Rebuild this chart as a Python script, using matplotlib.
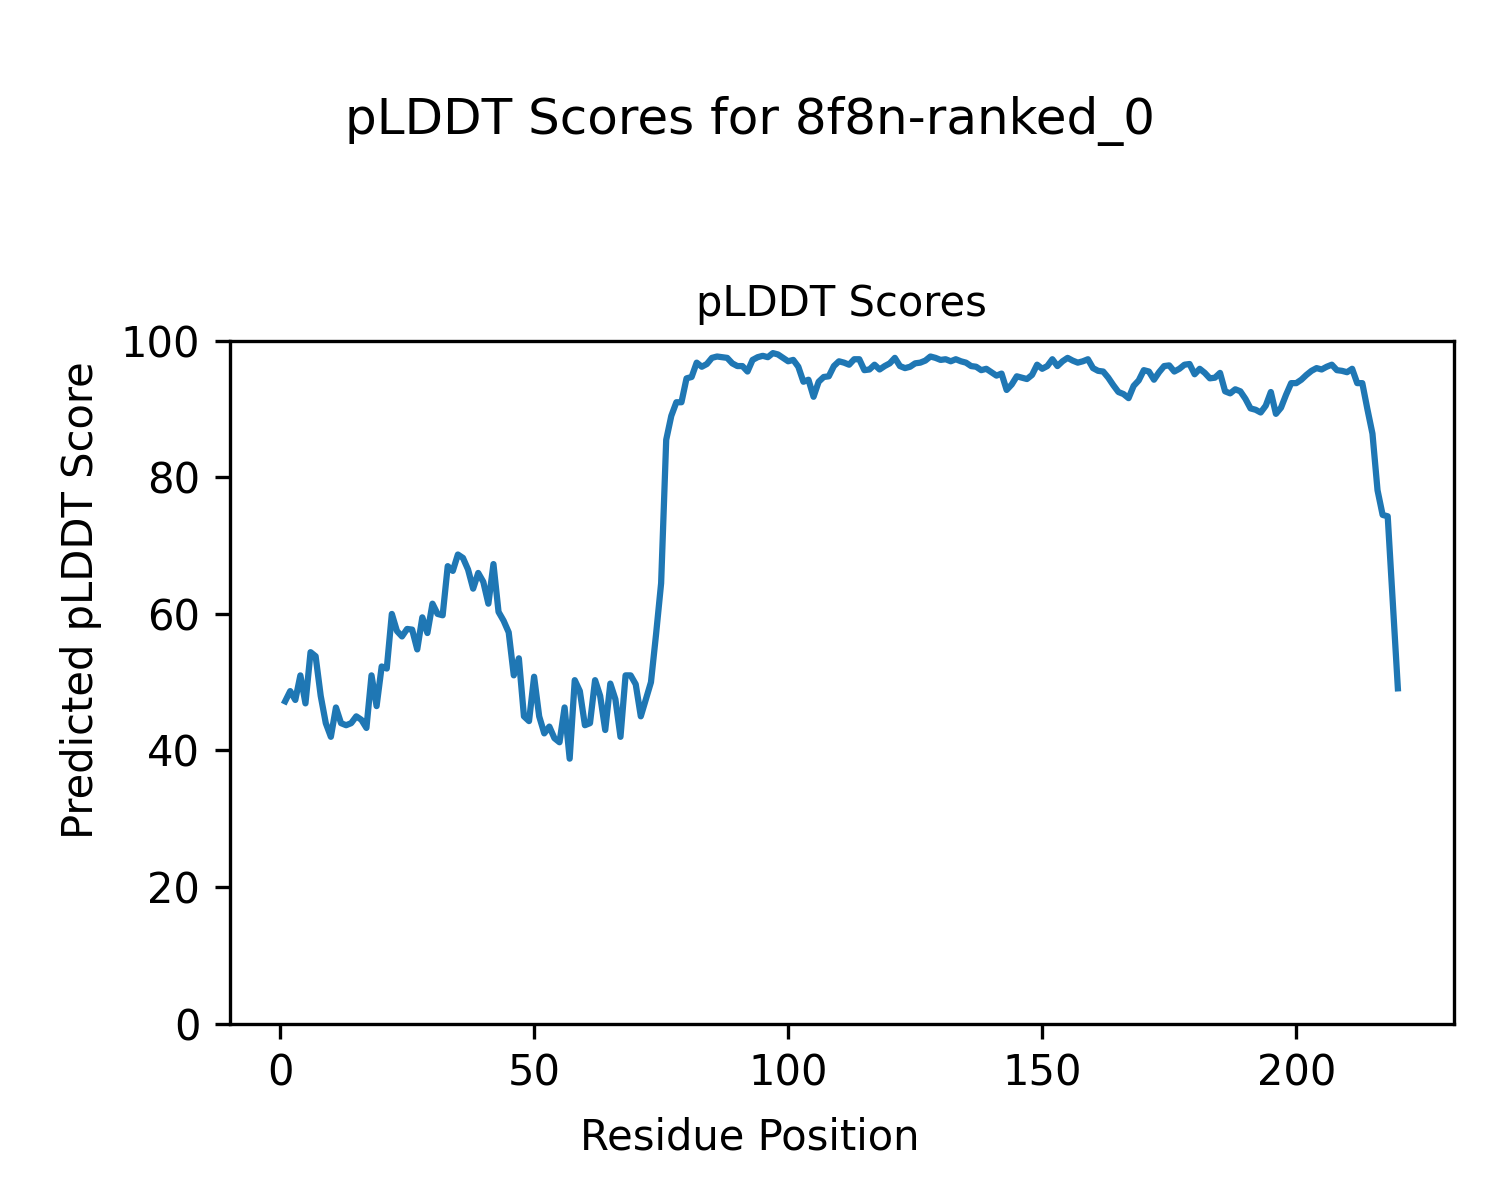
import numpy as np
import matplotlib
matplotlib.use("Agg")
import matplotlib.pyplot as plt

# pLDDT per residue, residues 1..220
plddt_1_40 = [47.2, 48.7, 47.4, 51.0, 46.9, 54.4, 53.8, 48.0, 44.0, 42.0,
              46.3, 44.0, 43.7, 44.0, 45.0, 44.5, 43.3, 51.0, 46.5, 52.3,
              52.0, 60.0, 57.5, 56.7, 57.8, 57.7, 54.8, 59.5, 57.2, 61.5,
              60.0, 59.8, 67.0, 66.3, 68.7, 68.2, 66.5, 63.7, 66.0, 64.7]
plddt_41_80 = [61.5, 67.3, 60.3, 59.0, 57.3, 51.0, 53.5, 45.0, 44.3, 50.8,
               45.0, 42.5, 43.5, 41.8, 41.2, 46.3, 38.8, 50.3, 48.7, 43.7,
               44.0, 50.3, 48.0, 43.0, 49.8, 47.5, 42.0, 51.0, 51.0, 49.7,
               45.0, 47.5, 50.0, 57.0, 64.5, 85.5, 89.0, 91.0, 91.0, 94.5]
plddt_81_120 = [94.7, 96.8, 96.2, 96.6, 97.5, 97.7, 97.6, 97.5, 96.7, 96.3,
                96.3, 95.5, 97.2, 97.6, 97.8, 97.6, 98.2, 98.0, 97.5, 97.0,
                97.2, 96.2, 94.0, 94.3, 91.8, 94.0, 94.7, 94.8, 96.3, 97.0,
                96.8, 96.5, 97.3, 97.3, 95.7, 95.8, 96.5, 95.8, 96.3, 96.7]
plddt_121_160 = [97.5, 96.3, 96.0, 96.2, 96.7, 96.8, 97.1, 97.7, 97.5, 97.2,
                 97.3, 97.0, 97.3, 97.0, 96.8, 96.3, 96.2, 95.7, 95.9, 95.4,
                 94.9, 95.2, 92.8, 93.6, 94.8, 94.6, 94.4, 95.0, 96.5, 95.9,
                 96.3, 97.3, 96.3, 97.0, 97.5, 97.1, 96.8, 97.0, 97.3, 96.0]
plddt_161_200 = [95.6, 95.5, 94.6, 93.5, 92.5, 92.2, 91.6, 93.4, 94.2, 95.7,
                 95.5, 94.3, 95.4, 96.3, 96.4, 95.5, 95.9, 96.5, 96.6, 95.1,
                 95.9, 95.3, 94.5, 94.6, 95.3, 92.6, 92.3, 92.9, 92.6, 91.5,
                 90.1, 89.9, 89.5, 90.5, 92.5, 89.3, 90.2, 92.1, 93.8, 93.8]
plddt_201_220 = [94.3, 95.0, 95.6, 96.0, 95.8, 96.2, 96.5, 95.7, 95.6, 95.4,
                 95.9, 93.8, 93.8, 90.0, 86.4, 78.1, 74.5, 74.3, 61.8, 49.1]

plddt = plddt_1_40 + plddt_41_80 + plddt_81_120 + plddt_121_160 + plddt_161_200 + plddt_201_220
residues = np.arange(1, len(plddt) + 1)

fig, ax = plt.subplots(figsize=(5, 4), dpi=300)
fig.subplots_adjust(left=0.153, right=0.969, bottom=0.147, top=0.716)

ax.plot(residues, plddt, color="#1f77b4")
ax.set_ylim(0, 100)
ax.set_title("pLDDT Scores", fontsize=10)

fig.suptitle("pLDDT Scores for 8f8n-ranked_0", y=0.92)
fig.supxlabel("Residue Position", y=0.035, fontsize=10)
fig.supylabel("Predicted pLDDT Score", x=0.04, fontsize=10)

fig.savefig("out.png", dpi=300)
